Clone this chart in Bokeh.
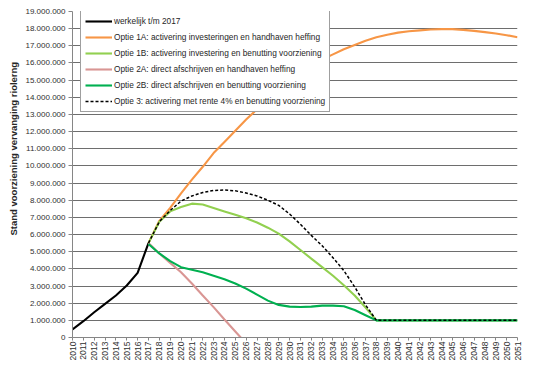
from math import pi
from bokeh.plotting import figure
from bokeh.models import Range1d, FixedTicker, Legend, LegendItem, Title
from bokeh.embed import file_html
from bokeh.resources import INLINE

# ---- data (euro) ----
years_actual = list(range(2010, 2018))
actual = [470000, 950000, 1470000, 1960000, 2450000, 3030000, 3770000, 5500000]

years_opt = list(range(2017, 2052))
opt_1a = [5500000, 6800000, 7550000, 8400000, 9200000, 9950000, 10750000, 11400000,
          12050000, 12700000, 13300000, 13900000, 14450000, 14950000, 15400000,
          15800000, 16200000, 16500000, 16800000, 17050000, 17300000, 17500000,
          17650000, 17770000, 17850000, 17900000, 17950000, 17970000, 17970000,
          17930000, 17870000, 17800000, 17720000, 17620000, 17500000]
opt_1b = [5500000, 6750000, 7350000, 7600000, 7800000, 7750000, 7550000, 7350000,
          7150000, 6950000, 6700000, 6400000, 6050000, 5600000, 5100000, 4600000,
          4100000, 3600000, 3050000, 2450000, 1750000, 1000000,
          1000000, 1000000, 1000000, 1000000, 1000000, 1000000, 1000000,
          1000000, 1000000, 1000000, 1000000, 1000000, 1000000]
years_2a = list(range(2017, 2027))
opt_2a = [5500000, 4900000, 4350000, 3800000, 3150000, 2450000, 1770000, 1050000,
          350000, -350000]
opt_2b = [5450000, 4900000, 4450000, 4100000, 3950000, 3800000, 3600000, 3400000,
          3150000, 2850000, 2500000, 2150000, 1900000, 1800000, 1780000, 1800000,
          1860000, 1860000, 1820000, 1600000, 1300000, 1000000,
          1000000, 1000000, 1000000, 1000000, 1000000, 1000000, 1000000,
          1000000, 1000000, 1000000, 1000000, 1000000, 1000000]
opt_3 = [5500000, 6750000, 7400000, 7950000, 8250000, 8450000, 8570000, 8600000,
         8550000, 8420000, 8250000, 8000000, 7700000, 7200000, 6600000, 5950000,
         5350000, 4650000, 3900000, 2950000, 1900000, 1000000,
         1000000, 1000000, 1000000, 1000000, 1000000, 1000000, 1000000,
         1000000, 1000000, 1000000, 1000000, 1000000, 1000000]

x_ticks = list(range(2010, 2052))
y_ticks = list(range(0, 19000001, 1000000))
y_tick_labels = {v: f"{v:,}".replace(",", ".") for v in y_ticks}

series_labels = [
    "werkelijk t/m 2017",
    "Optie 1A: activering investeringen en handhaven heffing",
    "Optie 1B: activering investering en benutting voorziening",
    "Optie 2A: direct afschrijven en handhaven heffing",
    "Optie 2B: direct afschrijven en benutting voorziening",
    "Optie 3: activering met rente 4% en benutting voorziening",
]
y_title = "Stand voorziening vervanging riolerng"

FONT = "Liberation Sans"

p = figure(width=526, height=364, output_backend="svg", toolbar_location=None,
           x_range=Range1d(2010, 2051), y_range=Range1d(0, 19000000),
           min_border_left=72, min_border_right=9, min_border_top=11,
           min_border_bottom=27)
p.outline_line_color = None
p.background_fill_color = "white"
p.border_fill_color = "white"

p.xgrid.visible = False
p.ygrid.grid_line_color = "#6e6e6e"
p.ygrid.grid_line_width = 1

p.xaxis.ticker = FixedTicker(ticks=x_ticks)
p.xaxis.major_label_orientation = pi / 2
p.xaxis.major_label_overrides = {v: str(v) for v in x_ticks}
p.yaxis.ticker = FixedTicker(ticks=y_ticks)
p.yaxis.major_label_overrides = y_tick_labels

for ax in (p.xaxis[0], p.yaxis[0]):
    ax.axis_line_color = "#868686"
    ax.major_tick_line_color = "#868686"
    ax.major_tick_in = 0
    ax.minor_tick_line_color = None
    ax.major_label_text_font = FONT
    ax.major_label_text_color = "#303030"

p.yaxis.major_tick_out = 4
p.yaxis.major_label_standoff = 3
p.yaxis.major_label_text_font_size = "8px"
p.xaxis.major_tick_out = 3
p.xaxis.major_label_standoff = 1
p.xaxis.major_label_text_font_size = "8.5px"

p.add_layout(Title(text=y_title, align="left", offset=102,
                   text_font=FONT, text_font_size="9.5px",
                   text_font_style="bold", text_color="#262626",
                   standoff=7), "left")

r0 = p.line(years_actual, actual, line_color="black", line_width=2.1)
r1 = p.line(years_opt, opt_1a, line_color="#F79646", line_width=2.1)
r2 = p.line(years_opt, opt_1b, line_color="#92D050", line_width=2.1)
r3 = p.line(years_2a, opt_2a, line_color="#D99694", line_width=2.1)
r4 = p.line(years_opt, opt_2b, line_color="#00B050", line_width=2.1)
r5 = p.line(years_opt, opt_3, line_color="black", line_width=1.5, line_dash="3 2")

legend = Legend(items=[LegendItem(label=l, renderers=[r]) for l, r in
                       zip(series_labels, [r0, r1, r2, r3, r4, r5])],
                location=(8, 225), orientation="vertical")
legend.label_text_font = FONT
legend.label_text_font_size = "8.3px"
legend.label_text_color = "#262626"
legend.glyph_width = 27
legend.glyph_height = 12
legend.label_height = 12
legend.spacing = 4
legend.padding = 4
legend.margin = 0
legend.label_standoff = 2
legend.border_line_color = "#404040"
legend.border_line_width = 1
legend.background_fill_color = "white"
legend.background_fill_alpha = 1
p.add_layout(legend, "center")

open("out.html", "w").write(file_html(p, INLINE))
